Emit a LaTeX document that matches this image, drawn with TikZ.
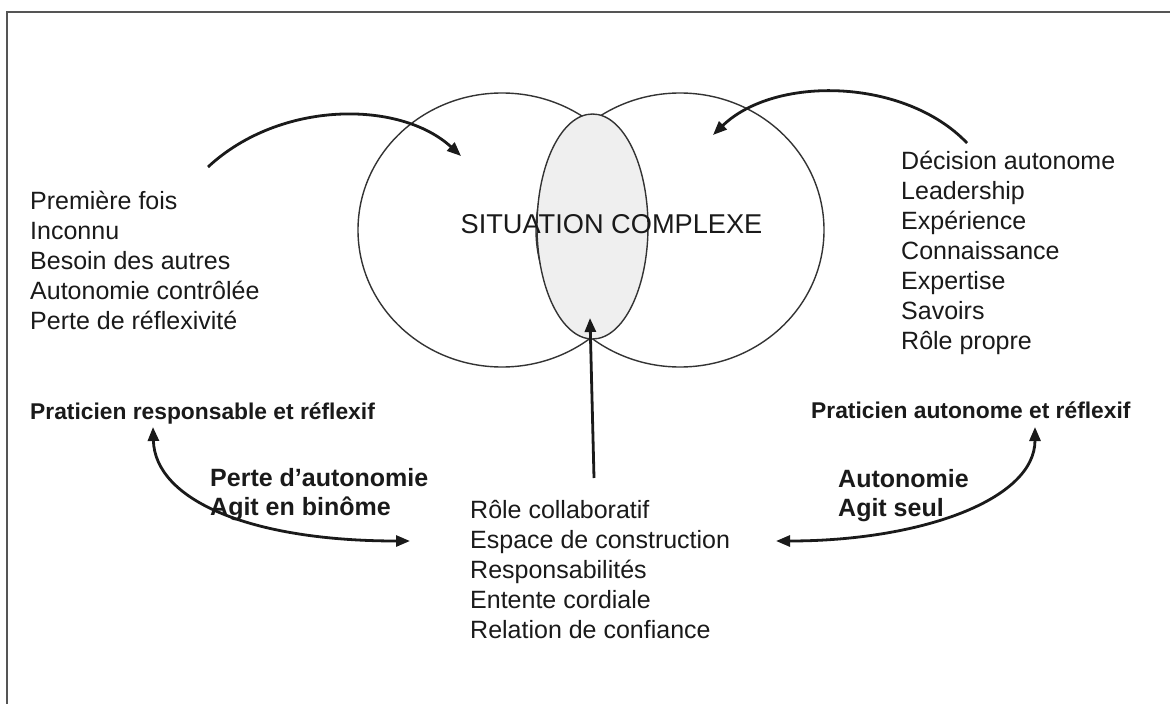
\documentclass[tikz,border=0pt]{standalone}
\usepackage{fontspec}
\setmainfont{Liberation Sans}
\usetikzlibrary{arrows.meta,shapes.geometric}
\definecolor{inkc}{HTML}{1A1A1A}
\definecolor{linec}{HTML}{333333}
\definecolor{framec}{HTML}{555555}
\definecolor{lensfill}{HTML}{EFEFEF}
\begin{document}
\begin{tikzpicture}[x=1pt,y=-1pt,
  txt/.style={anchor=base west, inner sep=0pt, text=inkc, font=\fontsize{25}{30}\selectfont},
  lbl/.style={anchor=base west, inner sep=0pt, text=inkc, font=\fontsize{22.8}{28}\selectfont\bfseries},
  blbl/.style={anchor=base west, inner sep=0pt, text=inkc, font=\fontsize{25}{30}\selectfont\bfseries},
  ring/.style={ellipse, draw=linec, line width=1.4pt, inner sep=0pt},
  arr/.style={draw=inkc, line width=2.8pt, -{Triangle[length=14pt,width=11pt]}},
  darr/.style={draw=inkc, line width=2.8pt, {Triangle[length=14pt,width=11pt]}-{Triangle[length=14pt,width=11pt]}}
]
\useasboundingbox (0,0) rectangle (1170,704);
\fill[white] (0,0) rectangle (1170,704);
% frame (only top and left edges visible)
\draw[framec, line width=2pt] (7,704) -- (7,12) -- (1170,12);

% circles and lens
\node[ring, minimum width=288pt, minimum height=274pt] (cL) at (502,230) {};
\node[ring, minimum width=288pt, minimum height=274pt] (cR) at (680,230) {};
\node[ring, fill=lensfill, minimum width=111pt, minimum height=225pt] (lens) at (592.5,226.5) {};
\node[anchor=base, inner sep=0pt, text=inkc, font=\fontsize{27.2}{32}\selectfont] (sit) at (611.5,233) {SITUATION COMPLEXE};

% left list
\foreach \t [count=\i] in {Première fois, Inconnu, Besoin des autres, Autonomie contrôlée, Perte de réflexivité}
  \node[txt] (L\i) at (30,{179+30*\i}) {\t};
% right list
\foreach \t [count=\i] in {Décision autonome, Leadership, Expérience, Connaissance, Expertise, Savoirs, Rôle propre}
  \node[txt] (R\i) at (901,{139+30*\i}) {\t};
% bottom list
\foreach \t [count=\i] in {Rôle collaboratif, Espace de construction, Responsabilités, Entente cordiale, Relation de confiance}
  \node[txt] (B\i) at (470,{488+30*\i}) {\t};

% bold labels
\node[lbl] (pr) at (30,419) {Praticien responsable et réflexif};
\node[lbl] (pa) at (811,418) {Praticien autonome et réflexif};
\node[blbl] (pe1) at (210,486) {Perte d’autonomie};
\node[blbl] (pe2) at (210,515) {Agit en binôme};
\node[blbl] (au1) at (838,487) {Autonomie};
\node[blbl] (au2) at (838,516) {Agit seul};

% connector end points
\coordinate (a1s) at (208,167);
\coordinate (a1e) at (461,156);
\coordinate (a2s) at (967,143);
\coordinate (a2e) at (713,135);
\coordinate (a3s) at (594,478);
\coordinate (a3e) at (590,318);
\coordinate (a4s) at (153,427);
\coordinate (a4e) at (410,541);
\coordinate (a5s) at (776,541);
\coordinate (a5e) at (1035,427);

\draw[arr] (a1s) .. controls (280,100) and (400,100) .. (a1e);
\draw[arr] (a2s) .. controls (905,78) and (775,75) .. (a2e);
\draw[arr] (a3s) -- (a3e);
\draw[darr] (a4s) .. controls (155,500) and (250,541) .. (a4e);
\draw[darr] (a5s) .. controls (920,541) and (1035,500) .. (a5e);
\end{tikzpicture}
\end{document}
